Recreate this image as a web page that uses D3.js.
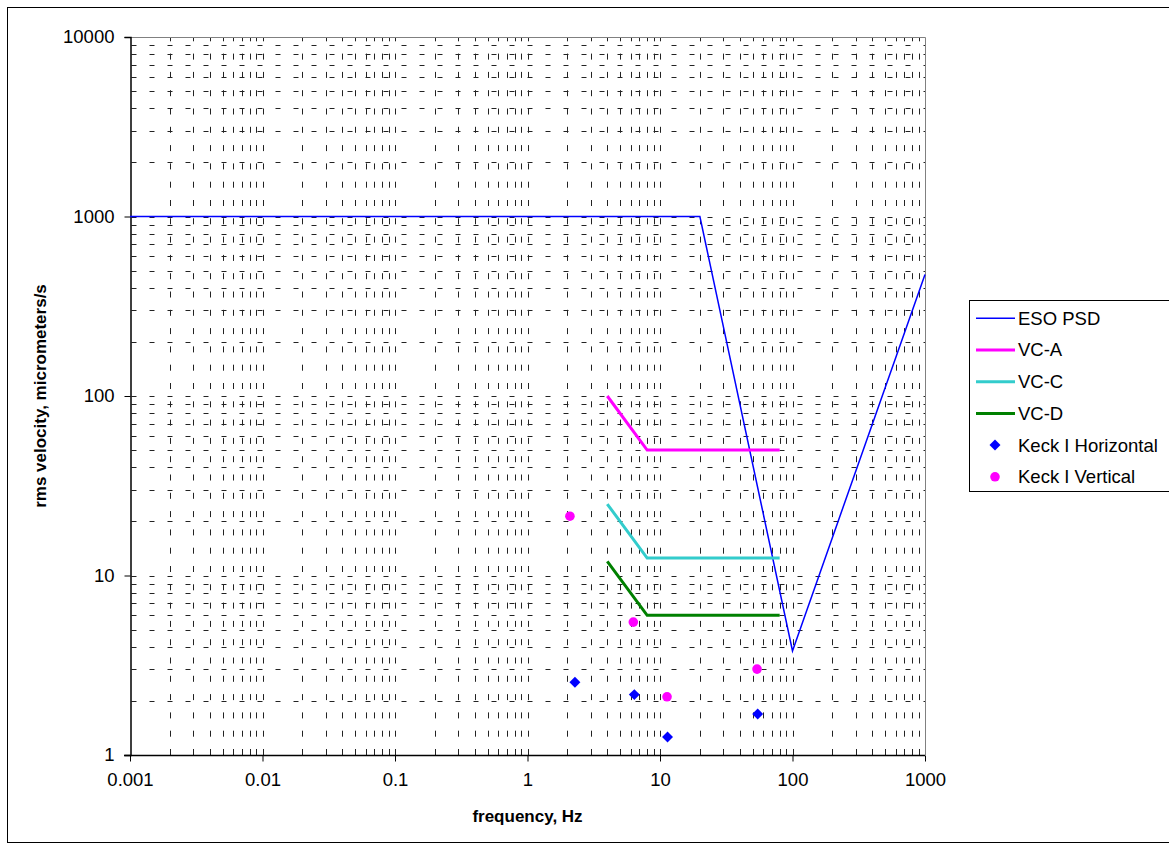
<!DOCTYPE html>
<html><head><meta charset="utf-8">
<script src="https://cdn.jsdelivr.net/npm/d3@7"></script>
<style>
html,body{margin:0;padding:0;background:#fff;}
svg{display:block;font-family:"Liberation Sans",Arial,sans-serif;}
</style></head>
<body>
<svg id="chart" width="1169" height="849"></svg>
<script>
// ---- data ----
const xTickLabels = ["0.001","0.01","0.1","1","10","100","1000"];
const yTickLabels = ["1","10","100","1000","10000"];
const esoPsdFreq = [0.001, 20, 100, 1000];
const esoPsdVel  = [1000, 1000, 3.8, 475];
const vcFreq = [4, 8, 80];
const vcA = [100, 50, 50];
const vcC = [25, 12.5, 12.5];
const vcD = [12, 6, 6];
const keckHFreq = [2.28, 6.4, 11.4, 54.6];
const keckHVel  = [2.54, 2.17, 1.26, 1.69];
const keckVFreq = [2.09, 6.29, 11.3, 54.0];
const keckVVel  = [21.4, 5.5, 2.11, 3.01];
const legendNames = ["ESO PSD","VC-A","VC-C","VC-D","Keck I Horizontal","Keck I Vertical"];

const svg = d3.select("#chart");
const L=130, R=925, T=37, B=755;
const x = d3.scaleLog().domain([0.001,1000]).range([L,R]);
const y = d3.scaleLog().domain([1,10000]).range([B,T]);

// outer border
svg.append("rect").attr("x",7.5).attr("y",7.5).attr("width",1300).attr("height",835)
  .attr("fill","none").attr("stroke","#000").attr("stroke-width",1);

// gridlines (major + minor, dashed)
const g = svg.append("g");
const xGrid=[], yGrid=[];
for(let e=-3;e<3;e++) for(let m=1;m<10;m++){ const v=m*Math.pow(10,e); if(v>0.001*1.0001) xGrid.push(v);}
for(let e=0;e<4;e++) for(let m=1;m<10;m++){ const v=m*Math.pow(10,e); if(v>1.0001) yGrid.push(v);}
xGrid.forEach(v=>{
  const px=Math.round(x(v))+0.5;
  g.append("path").attr("d",`M${px},${B}L${px},${T}`).attr("stroke","#222")
   .attr("stroke-width",1).attr("stroke-dasharray","6,12.3").attr("fill","none");
});
yGrid.forEach(v=>{
  const py=Math.round(y(v))+0.5;
  g.append("path").attr("d",`M${L},${py}L${R},${py}`).attr("stroke","#222")
   .attr("stroke-width",1).attr("stroke-dasharray","5,13").attr("stroke-dashoffset",16.5).attr("fill","none");
});

// plot border (gray top/right)
svg.append("path").attr("d",`M${L},${T+0.5}L${R+0.5},${T+0.5}L${R+0.5},${B}`)
  .attr("stroke","#808080").attr("fill","none");

// axes
const xAxis = d3.axisBottom(x).tickValues(xTickLabels.map(Number)).tickFormat((d,i)=>xTickLabels[i]).tickSize(6).tickPadding(11);
const yAxis = d3.axisLeft(y).tickValues(yTickLabels.map(Number)).tickFormat((d,i)=>yTickLabels[i]).tickSize(6).tickPadding(10);
const gx = svg.append("g").attr("transform",`translate(0,${B+0.5})`).call(xAxis);
const gy = svg.append("g").attr("transform",`translate(${L+0.5},0)`).call(yAxis);
[gx,gy].forEach(a=>{
  a.select(".domain").attr("stroke","#000").attr("stroke-width",1.5);
  a.selectAll(".tick line").attr("stroke","#000");
  a.selectAll("text").attr("fill","#000").attr("font-size","18.5px").attr("font-family","Liberation Sans, Arial, sans-serif");
});
gx.select(".domain").attr("d",`M${L-6},0H${R}`);

// axis titles
svg.append("text").attr("x",(L+R)/2).attr("y",822).attr("text-anchor","middle")
  .attr("font-size","17px").attr("font-weight","bold").text("frequency, Hz");
svg.append("text").attr("transform",`translate(46,${(T+B)/2}) rotate(-90)`).attr("text-anchor","middle")
  .attr("font-size","17px").attr("font-weight","bold").text("rms velocity, micrometers/s");

// lines
const line = d3.line().x(d=>x(d[0])).y(d=>y(d[1]));
const series = [
  {f:esoPsdFreq, v:esoPsdVel, c:"#0000FF", w:1.5},
  {f:vcFreq, v:vcA, c:"#FF00FF", w:3},
  {f:vcFreq, v:vcC, c:"#33CCCC", w:3},
  {f:vcFreq, v:vcD, c:"#008000", w:3}
];
series.forEach(s=>{
  svg.append("path").datum(s.f.map((f,i)=>[f,s.v[i]])).attr("d",line)
    .attr("fill","none").attr("stroke",s.c).attr("stroke-width",s.w);
});

// markers
const diamond = d3.symbol().type(d3.symbolSquare).size(60);
svg.append("g").selectAll("path").data(keckHFreq.map((f,i)=>[f,keckHVel[i]])).join("path")
  .attr("d",diamond).attr("fill","#0000FF")
  .attr("transform",d=>`translate(${x(d[0])},${y(d[1])}) rotate(45)`);
svg.append("g").selectAll("circle").data(keckVFreq.map((f,i)=>[f,keckVVel[i]])).join("circle")
  .attr("cx",d=>x(d[0])).attr("cy",d=>y(d[1])).attr("r",4.8).attr("fill","#FF00FF");

// legend
const lg = svg.append("g");
lg.append("rect").attr("x",969.5).attr("y",300.5).attr("width",260).attr("height",191)
  .attr("fill","#fff").attr("stroke","#000");
const legStyles = [
  {t:"line",c:"#0000FF",w:1.5},{t:"line",c:"#FF00FF",w:3},{t:"line",c:"#33CCCC",w:3},
  {t:"line",c:"#008000",w:3},{t:"diamond",c:"#0000FF"},{t:"circle",c:"#FF00FF"}
];
legendNames.forEach((n,i)=>{
  const cy = 318.3 + i*31.7;
  const st = legStyles[i];
  if(st.t==="line") lg.append("line").attr("x1",976).attr("x2",1015).attr("y1",cy).attr("y2",cy)
     .attr("stroke",st.c).attr("stroke-width",st.w);
  else if(st.t==="diamond") lg.append("path").attr("d",diamond).attr("fill",st.c)
     .attr("transform",`translate(995,${cy}) rotate(45)`);
  else lg.append("circle").attr("cx",995).attr("cy",cy).attr("r",4.8).attr("fill",st.c);
  lg.append("text").attr("x",1018).attr("y",cy).attr("dy","0.35em").attr("font-size","18.5px").text(n);
});
</script>
</body></html>
